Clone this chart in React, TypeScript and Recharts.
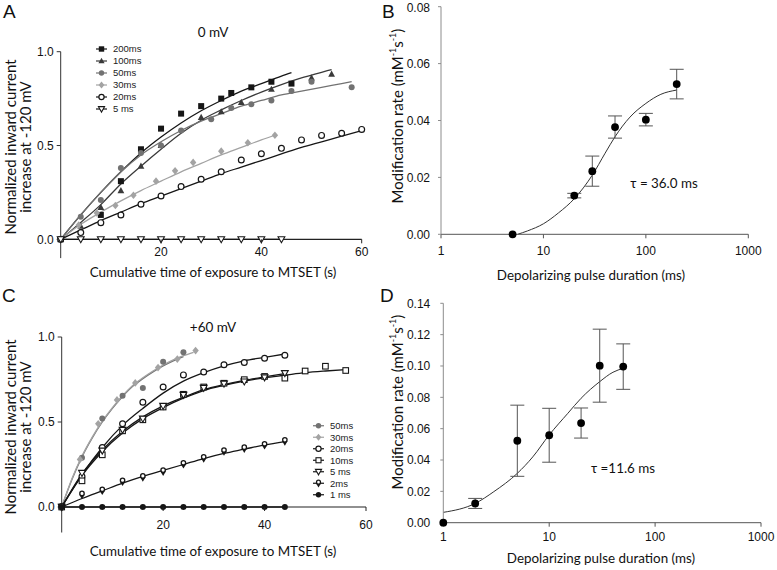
import React from "react";
import {
  ComposedChart,
  Line,
  Scatter,
  XAxis,
  YAxis,
  ReferenceLine,
  Legend,
  ErrorBar,
} from "recharts";

// ---------- panel A (0 mV): measured points ----------
const A200_T = [0, 8, 12, 16, 20, 24, 28, 32, 34, 38, 42, 46];
const A200_Y = [0, 0.13, 0.31, 0.48, 0.59, 0.67, 0.71, 0.75, 0.78, 0.81, 0.84, 0.83];
const A100_T = [0, 4, 8, 12, 16, 20, 28, 32, 36, 42, 50, 54];
const A100_Y = [0, 0.07, 0.17, 0.26, 0.39, 0.5, 0.65, 0.68, 0.73, 0.8, 0.86, 0.88];
const A50_T = [0, 4, 8, 12, 16, 20, 24, 30, 34, 38, 42, 46, 50, 58];
const A50_Y = [0, 0.12, 0.21, 0.38, 0.46, 0.5, 0.58, 0.64, 0.7, 0.72, 0.74, 0.79, 0.84, 0.81];
const A30_T = [0, 3.6, 7.2, 10.9, 14.5, 19, 22.8, 26.4, 32, 37.3, 42.7];
const A30_Y = [0, 0.076, 0.14, 0.18, 0.235, 0.31, 0.365, 0.41, 0.47, 0.515, 0.555];
const A20_T = [0, 4, 8, 12, 16, 20, 24, 28, 32, 36, 40, 44, 48, 52, 56, 60];
const A20_Y = [0, 0.036, 0.089, 0.13, 0.187, 0.231, 0.281, 0.32, 0.36, 0.423, 0.456, 0.485, 0.53, 0.554, 0.565, 0.586];
const A5_T = [0, 4, 8, 12, 16, 20, 24, 28, 32, 36, 40, 44];
const A5_Y = [0, 0, 0, 0, 0, 0, 0, 0, 0, 0, 0, 0];

// panel A: fitted curves
const A200_FT = [0, 4, 8, 12, 16, 20, 24, 28, 32, 36, 40, 44, 46];
const A200_FY = [0, 0.13, 0.25, 0.36, 0.46, 0.545, 0.62, 0.685, 0.74, 0.79, 0.83, 0.87, 0.888];
const A100_FT = [0, 4, 8, 12, 16, 20, 24, 28, 32, 36, 40, 44, 48, 52, 54];
const A100_FY = [0, 0.09, 0.185, 0.295, 0.39, 0.48, 0.565, 0.635, 0.69, 0.74, 0.785, 0.825, 0.86, 0.89, 0.905];
const A50_FT = [0, 4, 8, 12, 16, 20, 24, 28, 32, 36, 40, 44, 48, 52, 56, 58];
const A50_FY = [0, 0.13, 0.25, 0.36, 0.45, 0.52, 0.58, 0.63, 0.67, 0.71, 0.74, 0.77, 0.79, 0.81, 0.83, 0.84];
const A30_FT = [0, 4, 8, 12, 16, 20, 24, 28, 32, 36, 40, 42.7];
const A30_FY = [0, 0.08, 0.145, 0.205, 0.26, 0.31, 0.36, 0.405, 0.45, 0.49, 0.53, 0.555];
const A20_FT = [0, 4, 8, 12, 16, 20, 24, 28, 32, 36, 40, 44, 48, 52, 56, 60];
const A20_FY = [0, 0.05, 0.1, 0.145, 0.19, 0.23, 0.27, 0.31, 0.35, 0.385, 0.42, 0.455, 0.49, 0.52, 0.55, 0.58];
const A5_FT = [0, 44];
const A5_FY = [0, 0];

// ---------- panel C (+60 mV): measured points ----------
const C50_T = [0, 4, 8, 12, 16, 20, 24];
const C50_Y = [0, 0.29, 0.52, 0.655, 0.7, 0.855, 0.91];
const C30_T = [0, 3.6, 7.2, 10.9, 14.5, 19, 22.8, 26.4];
const C30_Y = [0, 0.28, 0.49, 0.63, 0.73, 0.82, 0.87, 0.92];
const C20_T = [0, 4, 8, 12, 16, 20, 24, 28, 32, 36, 40, 44];
const C20_Y = [0, 0.18, 0.35, 0.49, 0.616, 0.706, 0.777, 0.794, 0.837, 0.85, 0.875, 0.893];
const C10_T = [0, 4, 8, 12, 16, 20, 24, 28, 32, 36, 40, 44, 48, 52, 56];
const C10_Y = [0, 0.154, 0.307, 0.448, 0.513, 0.588, 0.663, 0.706, 0.728, 0.749, 0.768, 0.758, 0.8, 0.828, 0.803];
const C5_T = [0, 4, 8, 12, 16, 20, 24, 28, 32, 36, 40, 44];
const C5_Y = [0, 0.2, 0.331, 0.453, 0.519, 0.594, 0.659, 0.7, 0.725, 0.738, 0.762, 0.787];
const C2_T = [0, 4, 8, 12, 16, 20, 24, 28, 32, 36, 40, 44];
const C2_Y = [0, 0.073, 0.097, 0.15, 0.176, 0.21, 0.253, 0.288, 0.328, 0.345, 0.365, 0.388];
const C1_T = [0, 4, 8, 12, 16, 20, 24, 28, 32, 36, 40, 44];
const C1_Y = [0, 0, 0, 0, 0, 0, 0, 0, 0, 0, 0, 0];

// panel C: fitted curves
const C50_FT = [0, 2, 4, 6, 8, 10, 12, 14, 16, 18, 20, 22, 24];
const C50_FY = [0, 0.16, 0.295, 0.405, 0.5, 0.58, 0.65, 0.71, 0.755, 0.795, 0.83, 0.86, 0.885];
const C30_FT = [0, 2, 4, 6, 8, 10, 12, 14, 16, 18, 20, 22, 24, 26];
const C30_FY = [0, 0.165, 0.3, 0.41, 0.505, 0.585, 0.655, 0.715, 0.76, 0.8, 0.835, 0.865, 0.89, 0.91];
const C20_FT = [0, 4, 8, 12, 16, 20, 24, 28, 32, 36, 40, 44];
const C20_FY = [0, 0.19, 0.35, 0.48, 0.58, 0.67, 0.74, 0.79, 0.83, 0.86, 0.88, 0.9];
const C10_FT = [0, 4, 8, 12, 16, 20, 24, 28, 32, 36, 40, 44, 48, 52, 56];
const C10_FY = [0, 0.185, 0.325, 0.435, 0.52, 0.585, 0.64, 0.685, 0.715, 0.74, 0.76, 0.775, 0.79, 0.8, 0.808];
const C5_FT = [0, 4, 8, 12, 16, 20, 24, 28, 32, 36, 40, 44];
const C5_FY = [0, 0.195, 0.335, 0.445, 0.53, 0.595, 0.645, 0.69, 0.72, 0.745, 0.765, 0.785];
const C2_FT = [0, 4, 8, 12, 16, 20, 24, 28, 32, 36, 40, 44];
const C2_FY = [0, 0.05, 0.095, 0.14, 0.18, 0.215, 0.25, 0.285, 0.315, 0.34, 0.365, 0.385];
const C1_FT = [0, 44];
const C1_FY = [0, 0];

// ---------- panel B: modification rate vs pulse (0 mV) ----------
const B_DUR = [5, 20, 30, 50, 100, 200];
const B_RATE = [0, 0.0136, 0.0222, 0.0377, 0.0403, 0.0528];
const B_ERR = [0, 0.0008, 0.0053, 0.0039, 0.0022, 0.0052];
const B_FIT_DUR = [5.6, 7, 10, 14, 20, 30, 40, 50, 70, 100, 140, 200];
const B_FIT_RATE = [0, 0.0012, 0.0037, 0.0075, 0.0125, 0.0208, 0.0285, 0.0343, 0.0412, 0.046, 0.0492, 0.0507];

// ---------- panel D: modification rate vs pulse (+60 mV) ----------
const D_DUR = [1, 2, 5, 10, 20, 30, 50];
const D_RATE = [0, 0.0123, 0.0523, 0.0558, 0.0636, 0.1002, 0.0996];
const D_ERR = [0, 0.0032, 0.0227, 0.0172, 0.0096, 0.0233, 0.0145];
const D_FIT_DUR = [1, 2, 3, 5, 7, 10, 15, 20, 30, 40, 50];
const D_FIT_RATE = [0.0066, 0.0123, 0.0198, 0.0315, 0.042, 0.056, 0.0698, 0.0794, 0.09, 0.096, 0.0985];

const TIME_TICKS = [20, 40, 60];
const NORM_TICKS = [0, 0.5, 1];
const DUR_TICKS = [1, 10, 100, 1000];
const B_RATE_TICKS = [0, 0.02, 0.04, 0.06, 0.08];
const D_RATE_TICKS = [0, 0.02, 0.04, 0.06, 0.08, 0.1, 0.12, 0.14];

const TICK_FONT = "'Liberation Sans', Arial, sans-serif";
const LABEL_FONT = "Lato, 'Open Sans', sans-serif";

const zip = (t: number[], y: number[]) => t.map((x, i) => ({ x, y: y[i] }));
const zipErr = (t: number[], y: number[], e: number[]) =>
  t.map((x, i) => ({ x, y: y[i], err: e[i] }));

const A_SERIES = [
  { name: "200ms", kind: "sq", color: "#161616", pts: zip(A200_T, A200_Y), fit: zip(A200_FT, A200_FY) },
  { name: "100ms", kind: "tri", color: "#3a3a3a", pts: zip(A100_T, A100_Y), fit: zip(A100_FT, A100_FY) },
  { name: "50ms", kind: "dot", color: "#727272", pts: zip(A50_T, A50_Y), fit: zip(A50_FT, A50_FY) },
  { name: "30ms", kind: "dia", color: "#a3a3a3", pts: zip(A30_T, A30_Y), fit: zip(A30_FT, A30_FY) },
  { name: "20ms", kind: "ring", color: "#161616", pts: zip(A20_T, A20_Y), fit: zip(A20_FT, A20_FY) },
  { name: "5 ms", kind: "triD", color: "#161616", pts: zip(A5_T, A5_Y), fit: zip(A5_FT, A5_FY) },
];

const C_SERIES = [
  { name: "50ms", kind: "dot", color: "#727272", pts: zip(C50_T, C50_Y), fit: zip(C50_FT, C50_FY) },
  { name: "30ms", kind: "dia", color: "#a3a3a3", pts: zip(C30_T, C30_Y), fit: zip(C30_FT, C30_FY) },
  { name: "20ms", kind: "ring", color: "#161616", pts: zip(C20_T, C20_Y), fit: zip(C20_FT, C20_FY) },
  { name: "10ms", kind: "sqO", color: "#161616", pts: zip(C10_T, C10_Y), fit: zip(C10_FT, C10_FY) },
  { name: "5 ms", kind: "triD", color: "#161616", pts: zip(C5_T, C5_Y), fit: zip(C5_FT, C5_FY) },
  { name: "2ms", kind: "drop", color: "#161616", pts: zip(C2_T, C2_Y), fit: zip(C2_FT, C2_FY) },
  { name: "1 ms", kind: "dot", color: "#161616", pts: zip(C1_T, C1_Y), fit: zip(C1_FT, C1_FY) },
];

// marker shapes used both in the plot and in the legends
const Mark = ({ kind, x, y, c, s = 1 }: any) => {
  const k = (v: number) => v * s;
  switch (kind) {
    case "sq":
      return <rect x={x - k(3)} y={y - k(3)} width={k(6)} height={k(6)} fill={c} />;
    case "sqO":
      return <rect x={x - k(2.8)} y={y - k(2.8)} width={k(5.6)} height={k(5.6)} fill="#fff" stroke={c} strokeWidth={1.1} />;
    case "tri":
      return <path d={`M${x},${y - k(3.6)}L${x + k(3.4)},${y + k(2.6)}L${x - k(3.4)},${y + k(2.6)}Z`} fill={c} />;
    case "triD":
      return <path d={`M${x - k(3.4)},${y - k(2.6)}L${x + k(3.4)},${y - k(2.6)}L${x},${y + k(3.4)}Z`} fill="#fff" stroke={c} strokeWidth={1.1} />;
    case "dia":
      return <path d={`M${x},${y - k(3.8)}L${x + k(3.2)},${y}L${x},${y + k(3.8)}L${x - k(3.2)},${y}Z`} fill={c} />;
    case "ring":
      return <circle cx={x} cy={y} r={k(2.9)} fill="#fff" stroke={c} strokeWidth={1.2} />;
    case "drop":
      return (
        <g>
          <path d={`M${x - k(2.8)},${y}L${x + k(2.8)},${y}L${x},${y + k(4.6)}Z`} fill={c} />
          <circle cx={x} cy={y - k(1.2)} r={k(2.2)} fill="#fff" stroke={c} strokeWidth={1.3} />
        </g>
      );
    default:
      return <circle cx={x} cy={y} r={k(3)} fill={c} />;
  }
};

const legendContent = (series: any[], rowH: number) => () => (
  <svg width={62} height={series.length * rowH} style={{ display: "block", overflow: "visible" }}>
    {series.map((s, i) => {
      const cy = rowH / 2 + i * rowH;
      return (
        <g key={s.name}>
          <line x1={0} x2={11} y1={cy} y2={cy} stroke={s.color} strokeWidth={1.2} />
          <Mark kind={s.kind} x={5.5} y={cy} c={s.color} s={0.9} />
          <text x={17} y={cy} dy="0.35em" fontSize={9.5} fontFamily={TICK_FONT} fill="#222">
            {s.name}
          </text>
        </g>
      );
    })}
  </svg>
);

const tickStyle = { fontSize: 12, fill: "#111", fontFamily: TICK_FONT };

// x ticks of the time-course panels sit on the y = 0 line, which is above the plot bottom
const raisedTick = (lift: number, gap: number) => (p: any) => (
  <g>
    <line x1={p.x} x2={p.x} y1={p.y - lift} y2={p.y - lift + 4} stroke="#222" />
    <text
      x={p.x}
      y={p.y - lift + 4 + gap}
      dy="0.71em"
      textAnchor="middle"
      fontSize={12}
      fontFamily={TICK_FONT}
      fill="#111"
    >
      {p.payload.value}
    </text>
  </g>
);

const TC_W = 385;
const TC_H = 285;
const TC_XAXIS_H = 20;

const TimeCourse = ({ series, margin, ext, gap, legendPos, rowH }: any) => {
  const plotH = TC_H - margin.top - margin.bottom - TC_XAXIS_H;
  const lift = (plotH * -ext) / (1 - ext);
  return (
    <ComposedChart width={TC_W} height={TC_H} margin={margin}>
      <XAxis
        type="number"
        dataKey="x"
        domain={[0, 60]}
        ticks={TIME_TICKS}
        height={TC_XAXIS_H}
        tickSize={0}
        tickMargin={0}
        axisLine={false}
        tickLine={false}
        tick={raisedTick(lift, gap)}
      />
      <YAxis
        type="number"
        dataKey="y"
        domain={[ext, 1]}
        ticks={NORM_TICKS}
        tickFormatter={(v: number) => v.toFixed(1)}
        width={40}
        tickSize={4}
        tickMargin={3}
        axisLine={{ stroke: "#333" }}
        tickLine={{ stroke: "#333" }}
        tick={tickStyle}
      />
      {/* x axis drawn at y = 0; y axis runs a little below it */}
      <ReferenceLine y={0} stroke="#222" strokeWidth={1.1} />
      {series.map((s: any) => (
        <Line
          key={"fit" + s.name}
          data={s.fit}
          dataKey="y"
          type="monotone"
          stroke={s.color}
          strokeWidth={1.3}
          dot={false}
          activeDot={false}
          isAnimationActive={false}
        />
      ))}
      {series.map((s: any) => (
        <Scatter
          key={"pts" + s.name}
          data={s.pts}
          dataKey="y"
          isAnimationActive={false}
          shape={(p: any) => <Mark kind={s.kind} x={p.cx} y={p.cy} c={s.color} />}
        />
      ))}
      <Legend
        layout="vertical"
        align="center"
        verticalAlign="middle"
        content={legendContent(series, rowH)}
        wrapperStyle={{ left: legendPos[0], top: legendPos[1], width: 62 }}
      />
    </ComposedChart>
  );
};

const RatePlot = ({ pts, fit, ticks, max, margin, xTickMargin, yTickMargin }: any) => (
  <ComposedChart width={392} height={285} margin={margin}>
    <XAxis
      type="number"
      dataKey="x"
      scale="log"
      domain={[1, 1000]}
      ticks={DUR_TICKS}
      height={35}
      tickSize={4}
      tickMargin={xTickMargin}
      axisLine={{ stroke: "#555" }}
      tickLine={{ stroke: "#555" }}
      tick={tickStyle}
    />
    <YAxis
      type="number"
      dataKey="y"
      domain={[0, max]}
      ticks={ticks}
      tickFormatter={(v: number) => v.toFixed(2)}
      width={40}
      tickSize={3}
      tickMargin={yTickMargin}
      axisLine={{ stroke: "#8c8c8c" }}
      tickLine={{ stroke: "#8c8c8c" }}
      tick={tickStyle}
    />
    <Line data={fit} dataKey="y" type="monotone" stroke="#333" strokeWidth={1} dot={false} activeDot={false} isAnimationActive={false} />
    <Scatter
      data={pts}
      dataKey="y"
      isAnimationActive={false}
      shape={(p: any) => <circle cx={p.cx} cy={p.cy} r={3.9} fill="#000" />}
    >
      <ErrorBar dataKey="err" direction="y" width={7} stroke="#555" strokeWidth={1} />
    </Scatter>
  </ComposedChart>
);

const T = ({ x, y, size = 13.4, rot = false, anchor = "middle", font = LABEL_FONT, base = false, children }: any) => (
  <text
    x={x}
    y={y}
    fontSize={size}
    fontFamily={font}
    textAnchor={anchor}
    dominantBaseline={base ? "alphabetic" : "central"}
    transform={rot ? `rotate(-90 ${x} ${y})` : undefined}
    fill="#111"
  >
    {children}
  </text>
);

const rateLabel = (
  <>
    Modification rate (mM
    <tspan dy={-5} fontSize={9}>-1</tspan>
    <tspan dy={5}>s</tspan>
    <tspan dy={-5} fontSize={9}>-1</tspan>
    <tspan dy={5}>)</tspan>
  </>
);

export default function App() {
  return (
    <div style={{ position: "absolute", left: 0, top: 0, width: 777, height: 570, background: "#fff" }}>
      <div style={{ position: "absolute", left: 0, top: 0 }}>
        <TimeCourse
          series={A_SERIES}
          margin={{ top: 51.7, right: 23.3, left: 20.7, bottom: 6.9 }}
          ext={-0.1}
          gap={4}
          legendPos={[96, 43]}
          rowH={12}
        />
      </div>
      <div style={{ position: "absolute", left: 0, top: 285 }}>
        <TimeCourse
          series={C_SERIES}
          margin={{ top: 52, right: 19, left: 21.7, bottom: 17.5 }}
          ext={-0.15}
          gap={9}
          legendPos={[313, 135]}
          rowH={11.5}
        />
      </div>
      <div style={{ position: "absolute", left: 385, top: 0 }}>
        <RatePlot
          pts={zipErr(B_DUR, B_RATE, B_ERR)}
          fit={zip(B_FIT_DUR, B_FIT_RATE)}
          ticks={B_RATE_TICKS}
          max={0.08}
          margin={{ top: 6.7, right: 28.7, left: 16, bottom: 15.7 }}
          xTickMargin={8}
          yTickMargin={8}
        />
      </div>
      <div style={{ position: "absolute", left: 385, top: 285 }}>
        <RatePlot
          pts={zipErr(D_DUR, D_RATE, D_ERR)}
          fit={zip(D_FIT_DUR, D_FIT_RATE)}
          ticks={D_RATE_TICKS}
          max={0.14}
          margin={{ top: 18.3, right: 16, left: 18.3, bottom: 12.3 }}
          xTickMargin={6}
          yTickMargin={10}
        />
      </div>
      <svg width={777} height={570} style={{ position: "absolute", left: 0, top: 0, pointerEvents: "none" }}>
        <T x={3} y={18} size={19} font={TICK_FONT} anchor="start" base>A</T>
        <T x={382} y={18} size={19} font={TICK_FONT} anchor="start" base>B</T>
        <T x={2} y={302} size={19} font={TICK_FONT} anchor="start" base>C</T>
        <T x={380} y={302} size={19} font={TICK_FONT} anchor="start" base>D</T>

        <T x={213} y={32} size={13.5}>0 mV</T>
        <T x={213} y={327} size={13.5}>+60 mV</T>

        <T x={213} y={272}>Cumulative time of exposure to MTSET (s)</T>
        <T x={10} y={147} size={15} rot>Normalized inward current</T>
        <T x={25} y={147} size={15} rot>increase at -120 mV</T>

        <T x={213} y={551}>Cumulative time of exposure to MTSET (s)</T>
        <T x={10} y={427} size={15} rot>Normalized inward current</T>
        <T x={25} y={427} size={15} rot>increase at -120 mV</T>

        <T x={591} y={275}>Depolarizing pulse duration (ms)</T>
        <T x={397} y={116} size={15} rot>{rateLabel}</T>
        <T x={664} y={183}>τ = 36.0 ms</T>

        <T x={601} y={558}>Depolarizing pulse duration (ms)</T>
        <T x={397} y={402} size={15} rot>{rateLabel}</T>
        <T x={623} y={468}>τ =11.6 ms</T>
      </svg>
    </div>
  );
}
